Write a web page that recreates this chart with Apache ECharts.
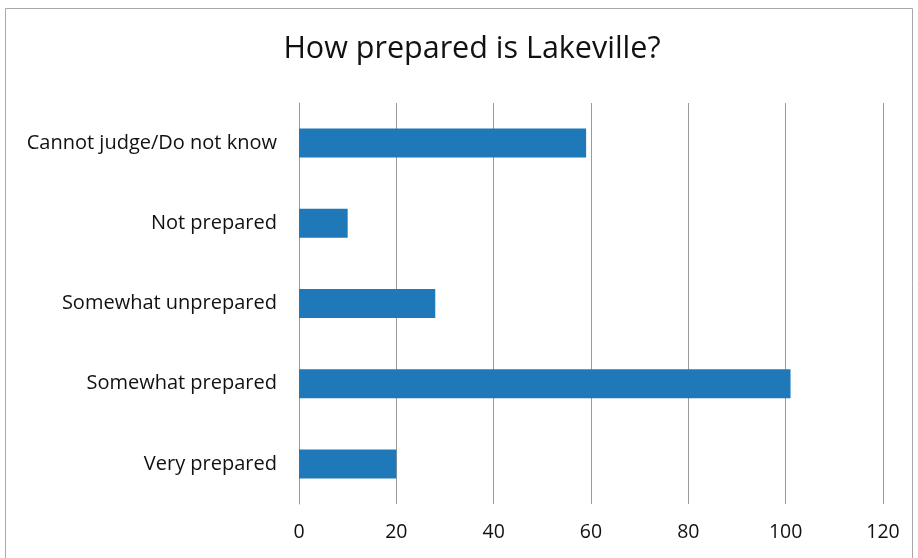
<!DOCTYPE html>
<html>
<head>
<meta charset="utf-8">
<script src="https://cdn.jsdelivr.net/npm/echarts@6/dist/echarts.min.js"></script>
<style>
html,body{margin:0;padding:0;background:#fff;}
#chart{width:918px;height:558px;}
</style>
</head>
<body>
<div id="chart"></div>
<script>
const titleText = 'How prepared is Lakeville?';
const categories = ['Cannot judge/Do not know', 'Not prepared', 'Somewhat unprepared', 'Somewhat prepared', 'Very prepared'];
const values = [59, 10, 28, 101, 20];
const xMin = 0, xMax = 120, xStep = 20;

const chart = echarts.init(document.getElementById('chart'));
const font = '"Open Sans", Lato, sans-serif';
chart.setOption({
  backgroundColor: '#ffffff',
  animation: false,
  title: {
    text: titleText,
    left: 467, top: 29, textAlign: 'center',
    textStyle: { fontFamily: font, fontSize: 30.5, fontWeight: 'normal', color: '#111' }
  },
  graphic: [{
    type: 'rect', shape: { x: 5.5, y: 8.5, width: 907, height: 570 },
    style: { fill: 'none', stroke: '#a8a8a8', lineWidth: 1 }, silent: true
  }],
  grid: { left: 299, right: 35, top: 103, bottom: 54, containLabel: false },
  xAxis: {
    type: 'value', min: xMin, max: xMax, interval: xStep,
    axisLine: { show: false }, axisTick: { show: false },
    splitLine: { show: true, lineStyle: { color: '#9a9a9a', width: 1 } },
    axisLabel: { fontFamily: font, fontSize: 19.5, color: '#111', margin: 18 }
  },
  yAxis: {
    type: 'category', data: categories, inverse: true,
    axisLine: { show: true, lineStyle: { color: '#9a9a9a' } },
    axisTick: { show: false },
    axisLabel: { fontFamily: font, fontSize: 20, color: '#111', margin: 22 }
  },
  series: [{
    type: 'bar', data: values, barWidth: 29,
    itemStyle: { color: '#1f78b8' }
  }]
});
</script>
</body>
</html>
